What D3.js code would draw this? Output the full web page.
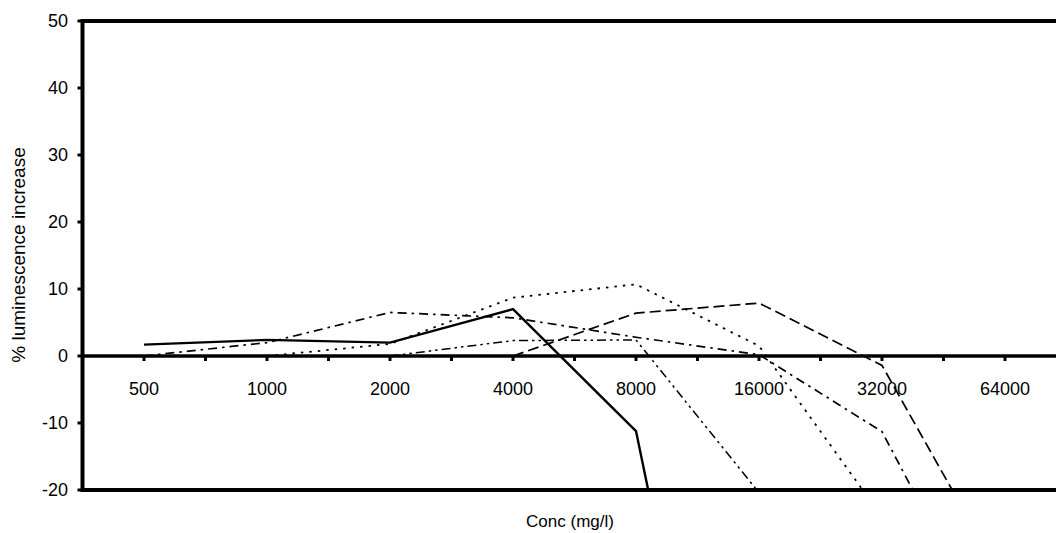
<!DOCTYPE html>
<html>
<head>
<meta charset="utf-8">
<script src="https://cdn.jsdelivr.net/npm/d3@7"></script>
<style>
  html, body { margin: 0; padding: 0; background: #fff; }
  svg { display: block; font-family: "Liberation Sans", Arial, sans-serif; }
</style>
</head>
<body>
<svg id="chart" width="1056" height="533"></svg>
<script>
// ---- data ----
const concentrations = [500, 1000, 2000, 4000, 8000, 16000, 32000, 64000];
const xTickLabels = ["500", "1000", "2000", "4000", "8000", "16000", "32000", "64000"];
const yTickValues = [-20, -10, 0, 10, 20, 30, 40, 50];
const seriesSolid      = [1.7, 2.4, 2.0, 7.0, -11.2, -100, null, null];
const seriesDotted     = [null, 0.0, 1.8, 8.7, 10.7, 1.5, -24, null];
const seriesDashDot    = [0.0, 2.0, 6.5, 5.7, 2.8, 0.2, -11.3, -46];
const seriesDashDotDot = [null, null, 0.0, 2.3, 2.4, -20.4, null, null];
const seriesDashed     = [null, null, null, 0.0, 6.4, 7.9, -1.4, -34];
const yTitle = "% luminescence increase";
const xTitle = "Conc (mg/l)";

(function () {
const svg = d3.select("#chart");
const pLeft = 82.5, pTop = 21, pBottom = 490, pRightExt = 1066.5, W = 1056;

const x = d3.scaleLog().base(2)
  .domain([500 / Math.SQRT2, 64000 * Math.SQRT2])
  .range([pLeft, pRightExt]);
const y = d3.scaleLinear().domain([-20, 50]).range([pBottom, pTop]);

// clip
svg.append("defs").append("clipPath").attr("id", "clip")
  .append("rect").attr("x", pLeft).attr("y", pTop)
  .attr("width", W - pLeft).attr("height", pBottom - pTop);

// series
const styles = [
  { data: seriesSolid,      dash: null,              w: 2.4 },
  { data: seriesDotted,     dash: "2.5,6",           w: 1.8 },
  { data: seriesDashDot,    dash: "9,5,2.5,5",       w: 1.7 },
  { data: seriesDashDotDot, dash: "9,4,2.5,4,2.5,4", w: 1.5 },
  { data: seriesDashed,     dash: "11,5",            w: 1.7 }
];
const line = d3.line()
  .defined(d => d.v !== null)
  .x(d => x(d.c)).y(d => y(d.v));

const g = svg.append("g").attr("clip-path", "url(#clip)");
styles.forEach(s => {
  const pts = concentrations.map((c, i) => ({ c, v: s.data[i] }));
  g.append("path").datum(pts)
    .attr("d", line)
    .attr("fill", "none")
    .attr("stroke", "#000")
    .attr("stroke-width", s.w)
    .attr("stroke-dasharray", s.dash)
    .attr("stroke-linejoin", "miter");
});

// frame lines
svg.append("line").attr("x1", pLeft).attr("x2", W).attr("y1", y(50)).attr("y2", y(50))
  .attr("stroke", "#000").attr("stroke-width", 4);
svg.append("line").attr("x1", pLeft).attr("x2", W).attr("y1", y(-20)).attr("y2", y(-20))
  .attr("stroke", "#000").attr("stroke-width", 4);
svg.append("line").attr("x1", pLeft).attr("x2", pLeft).attr("y1", y(50) - 2).attr("y2", y(-20) + 2)
  .attr("stroke", "#000").attr("stroke-width", 4);

// y axis ticks & labels
yTickValues.forEach(v => {
  svg.append("line").attr("x1", pLeft - 5).attr("x2", pLeft).attr("y1", y(v)).attr("y2", y(v))
    .attr("stroke", "#000").attr("stroke-width", 3);
  svg.append("text").attr("x", 68).attr("y", y(v)).attr("dy", "0.35em")
    .attr("text-anchor", "end").attr("font-size", 18).attr("fill", "#000").text(v);
});

// zero (x) axis
svg.append("line").attr("x1", pLeft).attr("x2", W).attr("y1", y(0)).attr("y2", y(0))
  .attr("stroke", "#000").attr("stroke-width", 3.5);
const halfTicks = d3.range(-1, 16).map(k => 500 * Math.pow(2, k / 2));
halfTicks.forEach(t => {
  const px = x(t);
  if (px > pLeft + 2 && px < W) {
    svg.append("line").attr("x1", px).attr("x2", px).attr("y1", y(0)).attr("y2", y(0) + 5)
      .attr("stroke", "#000").attr("stroke-width", 3);
  }
});
concentrations.forEach((c, i) => {
  svg.append("text").attr("x", x(c)).attr("y", 395)
    .attr("text-anchor", "middle").attr("font-size", 18).attr("fill", "#000")
    .text(xTickLabels[i]);
});

// titles
svg.append("text").attr("transform", "translate(25,255) rotate(-90)")
  .attr("text-anchor", "middle").attr("font-size", 19).attr("fill", "#000").text(yTitle);
svg.append("text").attr("x", 570).attr("y", 527)
  .attr("text-anchor", "middle").attr("font-size", 17).attr("fill", "#000").text(xTitle);
})();
</script>
</body>
</html>
